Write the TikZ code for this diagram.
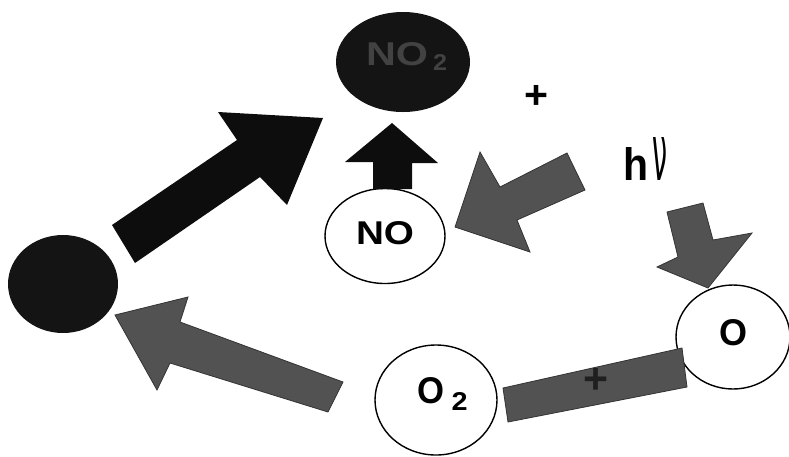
\documentclass[tikz,border=0pt]{standalone}
\usepackage{fontspec}
\setmainfont{Liberation Sans}
\newfontfamily\symfont{DejaVu Sans}
\usetikzlibrary{shapes.geometric}
\begin{document}
\begin{tikzpicture}[x=1pt,y=-1pt,
  white mol/.style={ellipse, draw=black, line width=1.4pt, fill=white, inner sep=0pt},
  dark mol/.style={ellipse, fill=black!92, inner sep=0pt},
  txt/.style={inner sep=0pt, font=\bfseries},
  blackarrow/.style={fill=black!95},
  grayarrow/.style={fill=black!68, draw=black!80, line width=0.8pt}]
\useasboundingbox (0,0) rectangle (789,456);
% molecules
\node[dark mol, minimum width=134pt, minimum height=100pt] (no2) at (403,62) {};
\node[txt, text=black!74] (no2txt) at (397,54) {\resizebox{62pt}{23pt}{NO}};
\node[txt, text=black!74] (no2sub) at (440,62) {\resizebox{14pt}{16pt}{2}};
\node[white mol, minimum width=120pt, minimum height=95pt] (no) at (385,236) {};
\node[txt] (notxt) at (385,233.5) {\resizebox{58pt}{23pt}{NO}};
\node[dark mol, minimum width=110pt, minimum height=98pt] (left) at (63,284) {};
\node[white mol, minimum width=122pt, minimum height=110pt] (o2) at (436,400) {};
\node[txt] (o2txt) at (430.5,390.5) {\resizebox{27pt}{26pt}{O}};
\node[txt] (o2sub) at (459.5,401.5) {\resizebox{16pt}{18pt}{2}};
\node[white mol, minimum width=114pt, minimum height=104pt] (o) at (733,337) {};
\node[txt] (otxt) at (733.5,332.5) {\resizebox{28pt}{26pt}{O}};
% labels
\node[txt] (plus1) at (536.5,96.5) {\resizebox{24pt}{23pt}{+}};
\node[txt] (hh) at (635.5,163.5) {\resizebox{25pt}{33pt}{h}};
\node[inner sep=0pt] (nu) at (659.5,158.5) {\resizebox{15pt}{43pt}{\symfont ν}};
% big black arrow: left -> NO2
\fill[blackarrow] (112,225) -- (237,140) -- (218,112) -- (323,118) -- (287,205) -- (260,177) -- (135,263) -- cycle;
% NO -> NO2 up arrow
\fill[blackarrow] (373,189) -- (373,162) -- (345,162) -- (392,123) -- (438,163) -- (412,163) -- (412,189) -- cycle;
% gray arrow into NO
\filldraw[grayarrow] (567,153) -- (500,187) -- (480,152) -- (455,227) -- (530,252) -- (517,220) -- (585,190) -- cycle;
% h nu arrow into O
\filldraw[grayarrow] (667,212) -- (703,203) -- (713,240) -- (752,233) -- (708,288) -- (657,267) -- (678,257) -- cycle;
% bar between O2 and O
\filldraw[grayarrow] (503,388) -- (682,348) -- (687,387) -- (508,422) -- cycle;
\node[txt, text=black!88] (plus2) at (596,381) {\resizebox{25pt}{25pt}{+}};
% gray arrow O2 -> left
\filldraw[grayarrow] (343,382) -- (180,322) -- (188,297) -- (115,315) -- (157,390) -- (170,363) -- (328,412) -- cycle;
\end{tikzpicture}
\end{document}
